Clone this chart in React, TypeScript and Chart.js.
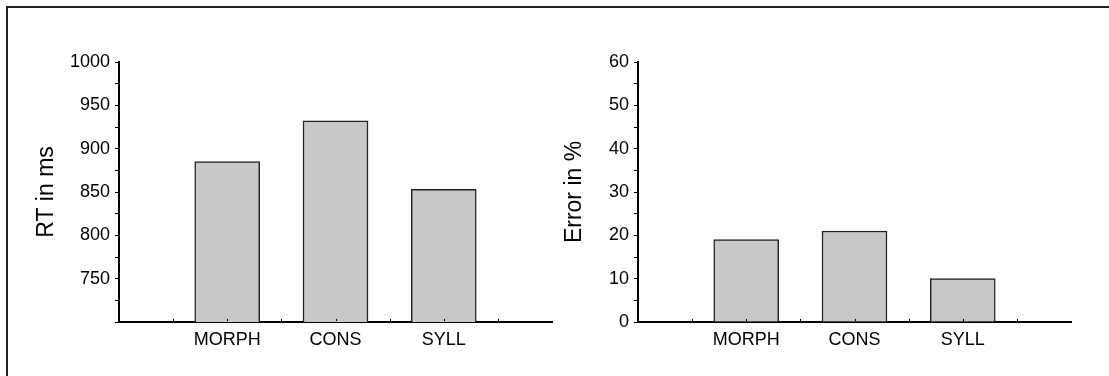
import React, { useEffect, useRef } from "react";
import { Chart, registerables } from "chart.js";

Chart.register(...registerables);

const categories = ["MORPH", "CONS", "SYLL"];
const rtValues = [885, 932, 853];
const errorValues = [19, 21, 10];
const rtLabelTicks = [750, 800, 850, 900, 950, 1000];
const errLabelTicks = [0, 10, 20, 30, 40, 50, 60];

const FONT = "'Liberation Sans', Arial, Helvetica, sans-serif";

const innerTicks = {
  id: "innerTicks",
  afterDatasetsDraw(chart: any) {
    const xs = chart.scales.x;
    const ctx = chart.ctx;
    const bottom = chart.chartArea.bottom;
    ctx.save();
    ctx.strokeStyle = "#000";
    ctx.lineWidth = 1;
    xs.ticks.forEach((t: any) => {
      if (t.value <= xs.min || t.value >= xs.max) return;
      const px = Math.round(xs.getPixelForValue(t.value)) + 0.5;
      ctx.beginPath();
      ctx.moveTo(px, bottom - 1);
      ctx.lineTo(px, bottom - 3);
      ctx.stroke();
    });
    ctx.restore();
  },
};

type PanelProps = {
  values: number[];
  labelTicks: number[];
  yMin: number;
  yMax: number;
  yStep: number;
  title: string;
  width: number;
  left: number;
  yAxisWidth: number;
  rightPad: number;
  titlePad: number;
};

function Panel(p: PanelProps) {
  const ref = useRef<HTMLCanvasElement>(null);
  useEffect(() => {
    const canvas = ref.current!;
    const chart = new Chart(canvas, {
      type: "bar",
      data: {
        datasets: [
          {
            data: p.values.map((v, i) => ({ x: i + 1, y: v })),
            backgroundColor: "#c8c8c8",
            borderColor: "#222",
            borderWidth: 1.5,
            barThickness: 65,
          },
        ],
      },
      options: {
        animation: false,
        responsive: false,
        layout: { padding: { left: 0, top: 62, right: p.rightPad, bottom: 0 } },
        plugins: { legend: { display: false }, tooltip: { enabled: false } },
        scales: {
          x: {
            type: "linear",
            min: 0,
            max: categories.length + 1,
            offset: false,
            grid: { display: false, drawTicks: false },
            border: { display: true, color: "#000", width: 2 },
            afterFit: (s: any) => {
              s.height = 54;
            },
            ticks: {
              stepSize: 0.5,
              autoSkip: false,
              maxRotation: 0,
              padding: 7,
              color: "#000",
              font: { family: FONT, size: 18 },
              callback: (v: any) => {
                const n = Number(v);
                if (Number.isInteger(n) && n >= 1 && n <= categories.length) return categories[n - 1];
                return "";
              },
            },
          },
          y: {
            min: p.yMin,
            max: p.yMax,
            grid: { drawOnChartArea: false, drawTicks: true, tickLength: 4, color: "#000", tickWidth: 1 },
            border: { display: true, color: "#000", width: 2 },
            afterFit: (s: any) => {
              s.width = p.yAxisWidth;
            },
            ticks: {
              stepSize: p.yStep,
              autoSkip: false,
              padding: 5,
              color: "#000",
              font: { family: FONT, size: 18 },
              callback: (v: any) => (p.labelTicks.includes(Number(v)) ? String(v) : ""),
            },
            title: {
              display: true,
              text: p.title,
              color: "#000",
              font: { family: FONT, size: 23, weight: "normal" },
              padding: { top: p.titlePad, bottom: 0 },
            },
          },
        },
      },
      plugins: [innerTicks],
    } as any);
    return () => chart.destroy();
  }, []);
  return (
    <canvas
      ref={ref}
      width={p.width}
      height={376}
      style={{ position: "absolute", left: p.left, top: 0, width: p.width, height: 376 }}
    />
  );
}

export default function App() {
  return (
    <div style={{ position: "absolute", left: 0, top: 0, width: 1109, height: 376, background: "#fff" }}>
      <div
        style={{
          position: "absolute",
          left: 6,
          top: 6,
          width: 1103,
          height: 370,
          borderTop: "2px solid #222",
          borderLeft: "2px solid #222",
          boxSizing: "border-box",
        }}
      />
      <Panel
        values={rtValues}
        labelTicks={rtLabelTicks}
        yMin={700}
        yMax={1000}
        yStep={25}
        title="RT in ms"
        width={561}
        left={0}
        yAxisWidth={119}
        rightPad={9}
        titlePad={33}
      />
      <Panel
        values={errorValues}
        labelTicks={errLabelTicks}
        yMin={0}
        yMax={60}
        yStep={5}
        title="Error in %"
        width={554}
        left={555}
        yAxisWidth={83}
        rightPad={38}
        titlePad={6}
      />
    </div>
  );
}
